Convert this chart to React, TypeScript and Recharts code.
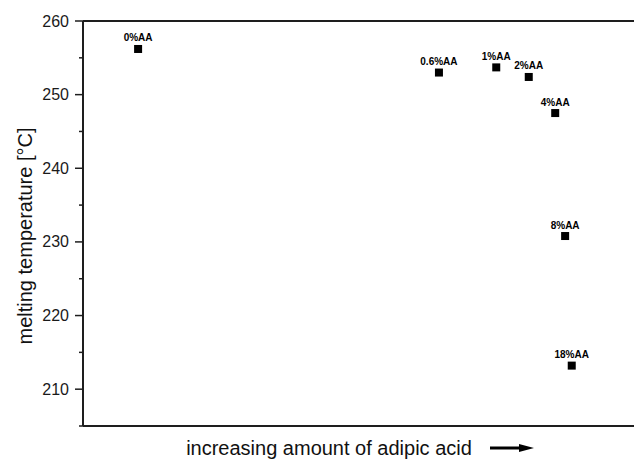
import React from "react";
import { ScatterChart, Scatter, XAxis, YAxis, ReferenceLine, LabelList } from "recharts";

// position along the (unscaled) x axis
const samples = ["0%AA", "0.6%AA", "1%AA", "2%AA", "4%AA", "8%AA", "18%AA"];
const xPos = [10.0, 64.6, 75.0, 80.9, 85.7, 87.5, 88.7];
const meltT = [256.2, 253.0, 253.7, 252.4, 247.5, 230.8, 213.2];
const yTicks = [205, 210, 215, 220, 225, 230, 235, 240, 245, 250, 255, 260];

const data = samples.map((s, i) => ({ name: s, x: xPos[i], y: meltT[i] }));

const AXIS = "#1e1e1e";
const FONT = "'Liberation Sans', Arial, sans-serif";

const Square = (p: any) => (
  <rect x={p.cx - 4} y={p.cy - 4} width={8} height={8} fill="#000" />
);

const YTick = (p: any) => {
  const v = p.payload.value;
  const major = v % 10 === 0;
  return (
    <g>
      <line x1={p.x} x2={p.x - (major ? 8 : 4)} y1={p.y} y2={p.y} stroke={AXIS} strokeWidth={1.5} />
      {major && (
        <text x={p.x - 14} y={p.y + 5.5} textAnchor="end" fontSize={16} fill="#1a1a1a" fontFamily={FONT}>
          {v}
        </text>
      )}
    </g>
  );
};

const XLabel = () => (
  <g>
    <text x={329} y={455} textAnchor="middle" fontSize={20} fill="#111" fontFamily={FONT}>
      increasing amount of adipic acid
    </text>
    <line x1={490} x2={522} y1={448} y2={448} stroke="#000" strokeWidth={3} />
    <polygon points="519,444 534,448 519,452" fill="#000" />
  </g>
);

const YLabel = () => (
  <text
    x={32}
    y={236}
    transform="rotate(-90 32 236)"
    textAnchor="middle"
    fontSize={20}
    fill="#111"
    fontFamily={FONT}
  >
    melting temperature [°C]
  </text>
);

export default function App() {
  return (
    <div style={{ position: "absolute", left: 0, top: 0, background: "#fff" }}>
      <ScatterChart width={634} height={459} margin={{ top: 21, right: 0, bottom: 0, left: 0 }}>
        <XAxis
          type="number"
          dataKey="x"
          domain={[0, 100]}
          tick={false}
          tickLine={false}
          height={33}
          axisLine={{ stroke: AXIS, strokeWidth: 2 }}
          label={<XLabel />}
        />
        <YAxis
          type="number"
          dataKey="y"
          domain={[205, 260]}
          ticks={yTicks}
          interval={0}
          width={83}
          tickSize={0}
          tickMargin={0}
          tickLine={false}
          tick={<YTick />}
          axisLine={{ stroke: AXIS, strokeWidth: 2 }}
          label={<YLabel />}
        />
        <ReferenceLine y={260} stroke={AXIS} strokeWidth={2} />
        <Scatter data={data} shape={<Square />} isAnimationActive={false}>
          <LabelList
            dataKey="name"
            position="top"
            offset={3}
            fontSize={10}
            fontWeight="bold"
            fill="#000"
            fontFamily={FONT}
          />
        </Scatter>
      </ScatterChart>
    </div>
  );
}
